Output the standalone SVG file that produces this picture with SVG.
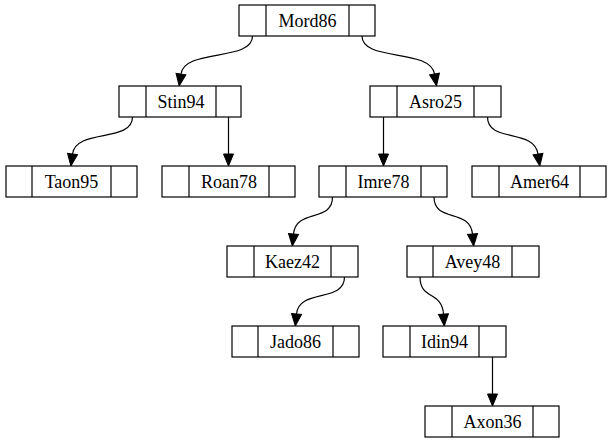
<svg xmlns="http://www.w3.org/2000/svg" width="612" height="443" viewBox="0 0 612 443">
<defs>
<style>
.box{fill:#fff;stroke:#000;stroke-width:1.2}
.div{stroke:#000;stroke-width:1.2}
.lbl{font-family:"Liberation Serif","Times New Roman",serif;font-size:18px;text-anchor:middle;fill:#000}
.edge{fill:none;stroke:#000;stroke-width:1.2}
</style>
<marker id="ah" markerUnits="userSpaceOnUse" markerWidth="13" markerHeight="12" refX="0" refY="5.5" orient="auto" overflow="visible">
<path d="M0,0.5 L12,5.5 L0,10.5 z" fill="#000" stroke="#000" stroke-width="1"/>
</marker>
</defs>
<rect width="612" height="443" fill="#fff"/>
<g id="edges">
<path class="edge" marker-end="url(#ah)" d="M252.5,36 C252.5,62 185,48 181,74"/>
<path class="edge" marker-end="url(#ah)" d="M362,36 C362,62 430,48 434.5,74"/>
<path class="edge" marker-end="url(#ah)" d="M132.5,117 C132.5,143 76,128 72.5,154"/>
<path class="edge" marker-end="url(#ah)" d="M228.5,117 L228.5,154"/>
<path class="edge" marker-end="url(#ah)" d="M383.5,117 L383.5,154"/>
<path class="edge" marker-end="url(#ah)" d="M487.5,117 C487.5,143 534,128 538,154"/>
<path class="edge" marker-end="url(#ah)" d="M332.5,197 C332.5,223 296,208 293.5,234"/>
<path class="edge" marker-end="url(#ah)" d="M434,197 C434,223 470,208 472.5,234"/>
<path class="edge" marker-end="url(#ah)" d="M344.5,277 C344.5,303 299,288 296.5,314"/>
<path class="edge" marker-end="url(#ah)" d="M420,277 C420,300 442,291 443.5,314"/>
<path class="edge" marker-end="url(#ah)" d="M492.5,357 L492.5,394"/>
</g>
<g id="Mord86"><rect class="box" x="239" y="5" width="136" height="31"/><line class="div" x1="266" y1="5" x2="266" y2="36"/><line class="div" x1="349" y1="5" x2="349" y2="36"/><text class="lbl" x="307.5" y="26.5">Mord86</text></g>
<g id="Stin94"><rect class="box" x="119" y="86" width="122" height="31"/><line class="div" x1="146" y1="86" x2="146" y2="117"/><line class="div" x1="216" y1="86" x2="216" y2="117"/><text class="lbl" x="181" y="107.5">Stin94</text></g>
<g id="Asro25"><rect class="box" x="370" y="86" width="131" height="31"/><line class="div" x1="397" y1="86" x2="397" y2="117"/><line class="div" x1="474" y1="86" x2="474" y2="117"/><text class="lbl" x="435.5" y="107.5">Asro25</text></g>
<g id="Taon95"><rect class="box" x="6" y="166" width="131" height="31"/><line class="div" x1="32" y1="166" x2="32" y2="197"/><line class="div" x1="111" y1="166" x2="111" y2="197"/><text class="lbl" x="71.5" y="187.5">Taon95</text></g>
<g id="Roan78"><rect class="box" x="162" y="166" width="133" height="31"/><line class="div" x1="189" y1="166" x2="189" y2="197"/><line class="div" x1="269" y1="166" x2="269" y2="197"/><text class="lbl" x="229" y="187.5">Roan78</text></g>
<g id="Imre78"><rect class="box" x="319" y="166" width="128" height="31"/><line class="div" x1="346" y1="166" x2="346" y2="197"/><line class="div" x1="421" y1="166" x2="421" y2="197"/><text class="lbl" x="383.5" y="187.5">Imre78</text></g>
<g id="Amer64"><rect class="box" x="472" y="166" width="134" height="31"/><line class="div" x1="499" y1="166" x2="499" y2="197"/><line class="div" x1="580" y1="166" x2="580" y2="197"/><text class="lbl" x="539.5" y="187.5">Amer64</text></g>
<g id="Kaez42"><rect class="box" x="227" y="246" width="131" height="31"/><line class="div" x1="254" y1="246" x2="254" y2="277"/><line class="div" x1="331" y1="246" x2="331" y2="277"/><text class="lbl" x="292.5" y="267.5">Kaez42</text></g>
<g id="Avey48"><rect class="box" x="407" y="246" width="132" height="31"/><line class="div" x1="433" y1="246" x2="433" y2="277"/><line class="div" x1="512" y1="246" x2="512" y2="277"/><text class="lbl" x="472.5" y="267.5">Avey48</text></g>
<g id="Jado86"><rect class="box" x="232" y="326" width="127" height="31"/><line class="div" x1="258" y1="326" x2="258" y2="357"/><line class="div" x1="333" y1="326" x2="333" y2="357"/><text class="lbl" x="295.5" y="347.5">Jado86</text></g>
<g id="Idin94"><rect class="box" x="383" y="326" width="123" height="31"/><line class="div" x1="410" y1="326" x2="410" y2="357"/><line class="div" x1="479" y1="326" x2="479" y2="357"/><text class="lbl" x="444.5" y="347.5">Idin94</text></g>
<g id="Axon36"><rect class="box" x="425" y="406" width="134" height="31"/><line class="div" x1="452" y1="406" x2="452" y2="437"/><line class="div" x1="533" y1="406" x2="533" y2="437"/><text class="lbl" x="492.5" y="427.5">Axon36</text></g>
</svg>
